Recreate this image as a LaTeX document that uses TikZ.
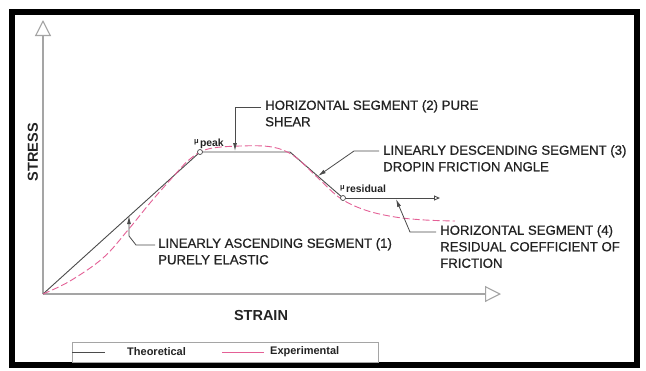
\documentclass[tikz,border=0pt]{standalone}
\usepackage{fontspec}
\setmainfont{Liberation Sans}
\newfontfamily\labfont[FakeBold=0.7]{Liberation Sans}
\usetikzlibrary{arrows.meta}
\definecolor{pinkexp}{RGB}{228,96,150}
\definecolor{axisgray}{RGB}{165,165,165}
\definecolor{theo}{RGB}{75,75,75}
\definecolor{txt}{RGB}{35,35,35}
\begin{document}
\begin{tikzpicture}[x=1pt,y=-1pt,
  axisline/.style={draw=axisgray, line width=1.1pt},
  theoline/.style={draw=theo, line width=0.9pt},
  expline/.style={draw=pinkexp, line width=0.9pt, dash pattern=on 7pt off 3pt},
  leader/.style={draw=theo, line width=0.8pt, -{Latex[length=8pt,width=4pt]}},
  lab/.style={font=\labfont\fontsize{13.2}{16.5}\selectfont, text=txt, align=left, inner sep=0pt, anchor=north west},
  mulab/.style={font=\fontsize{10.4}{12}\selectfont\bfseries, text=txt, inner sep=0pt, anchor=base west},
  axlab/.style={font=\fontsize{14.5}{16}\selectfont\bfseries, text=txt, inner sep=0pt},
  leglab/.style={font=\fontsize{11}{13}\selectfont\bfseries, text=txt, inner sep=0pt, anchor=west},
  ptcirc/.style={circle, draw=theo, fill=white, line width=0.7pt, minimum size=5pt, inner sep=0pt}
]
\useasboundingbox (0,0) rectangle (646,370);
\fill[white] (0,0) rectangle (646,370);
\draw[line width=6pt] (12,12) rectangle (637,365);

% axes
\coordinate (O) at (43,294);
\coordinate (Ytop) at (43,20);
\coordinate (Xend) at (501,294);
\draw[axisline, -{Triangle[open,length=16pt,width=16pt]}] (O) -- (Ytop);
\draw[axisline, -{Triangle[open,length=16pt,width=16pt]}] (O) -- (Xend);
\node[axlab, rotate=90] (stress) at (33,152) {STRESS};
\node[axlab] (strain) at (261,316) {STRAIN};

% theoretical curve
\coordinate (P) at (200,152);
\coordinate (Q) at (290,152);
\coordinate (R) at (343,198);
\coordinate (Rend) at (440,198);
\draw[theoline] (O) -- (P) -- (Q) -- (R);
\draw[theoline, -{Triangle[open,length=6pt,width=5pt]}] (R) -- (Rend);

% experimental curve
\draw[expline] plot[smooth, tension=0.6] coordinates {
  (43,294) (70,281) (103,258) (128,230) (150,203) (172,178) (190,159)
  (208,149) (240,146) (272,147) (294,156) (318,178) (340,198) (365,210)
  (395,217) (425,220) (455,221)};

\node[ptcirc] (peakpt) at (P) {};
\node[ptcirc] (respt) at (R) {};

\node[mulab] (mupeak) at (194,143) {\fontsize{7.5}{8}\selectfont μ\,\raisebox{-3pt}{\fontsize{10.4}{12}\selectfont peak}};
\node[mulab] (mures) at (340,189) {\fontsize{7.5}{8}\selectfont μ\,\raisebox{-3pt}{\fontsize{10.4}{12}\selectfont residual}};

% labels
\node[lab] (L1) at (158,238) {LINEARLY ASCENDING SEGMENT (1)\\PURELY ELASTIC};
\node[lab] (L2) at (265,100) {HORIZONTAL SEGMENT (2) PURE\\SHEAR};
\node[lab] (L3) at (383,145) {LINEARLY DESCENDING SEGMENT (3)\\DROPIN FRICTION ANGLE};
\node[lab] (L4) at (440,225) {HORIZONTAL SEGMENT (4)\\RESIDUAL COEFFICIENT OF\\FRICTION};

% leaders
\coordinate (a1s) at (155,245);
\coordinate (a1e) at (129,216);
\draw[leader] (a1s) -- (136,245) -- (129,236) -- (a1e);
\coordinate (a2s) at (261,107);
\coordinate (a2e) at (235,151);
\draw[leader] (a2s) -- (235,107) -- (a2e);
\coordinate (a3s) at (379,151);
\coordinate (a3e) at (318,176);
\draw[leader] (a3s) -- (354,151) -- (a3e);
\coordinate (a4s) at (436,232);
\coordinate (a4e) at (396,199);
\draw[leader] (a4s) -- (410,232) -- (a4e);

% legend
\draw[draw=axisgray, line width=0.8pt] (72,342) rectangle (378,362);
\coordinate (lt1) at (72,352);
\coordinate (lt2) at (105,352);
\draw[theoline, line width=0.7pt] (lt1) -- (lt2);
\node[leglab] (legT) at (127,352) {Theoretical};
\coordinate (le1) at (222,352);
\coordinate (le2) at (264,352);
\draw[draw=pinkexp, line width=0.7pt] (le1) -- (le2);
\node[leglab] (legE) at (270,352) {Experimental};
\end{tikzpicture}
\end{document}
